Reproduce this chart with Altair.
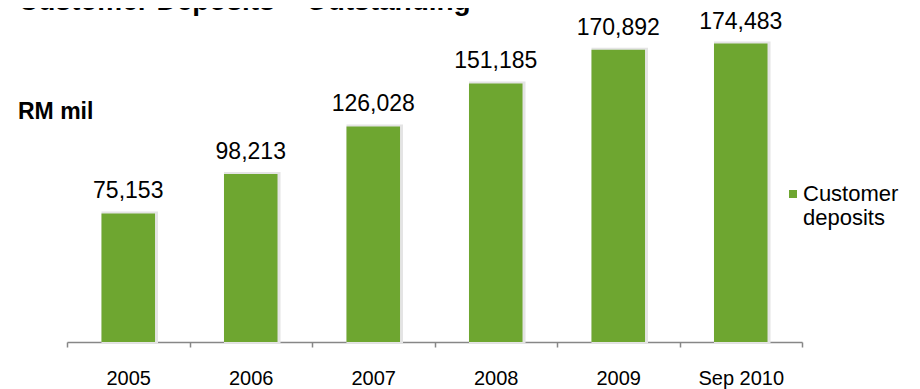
import altair as alt
import pandas as pd

categories = ["2005", "2006", "2007", "2008", "2009", "Sep 2010"]
deposits = [75153, 98213, 126028, 151185, 170892, 174483]
series_name = "Customer deposits"
title_text = "Customer Deposits – Outstanding"
unit_text = "RM mil"

df = pd.DataFrame({
    "period": categories,
    "value": deposits,
    "series": [series_name] * len(categories),
})
notes = pd.DataFrame({"t": [title_text, unit_text]})

FONT = "Liberation Sans"
GREEN = "#6ea630"
AXIS_GREY = "#878787"

x = alt.X(
    "period:N", sort=categories, title=None,
    scale=alt.Scale(paddingInner=0, paddingOuter=0),
    axis=alt.Axis(labelAngle=0, labelFont=FONT, labelFontSize=20, labelColor="black",
                  labelBaseline="alphabetic", labelPadding=37, tickSize=5,
                  tickColor=AXIS_GREY, tickWidth=1.5, domainColor=AXIS_GREY,
                  domainWidth=1.5, tickBand="extent", grid=False),
)
y = alt.Y("value:Q", scale=alt.Scale(domain=[0, 195300]), axis=None)

shadow = alt.Chart(df).mark_bar(
    width=alt.RelativeBandSize(0.437), color="#e4e4e4",
    stroke="#e4e4e4", strokeWidth=3, xOffset=1.5, yOffset=-0.5,
).encode(x=x, y=y)

bars = alt.Chart(df).mark_bar(width=alt.RelativeBandSize(0.437)).encode(
    x=x, y=y,
    color=alt.Color(
        "series:N",
        scale=alt.Scale(range=[GREEN]),
        legend=alt.Legend(
            orient="none", legendX=714, legendY=182, title=None, padding=0,
            symbolType="M-0.75,-2.75H1.25V-0.75H-0.75Z", symbolSize=64,
            symbolFillColor=GREEN, symbolStrokeWidth=0,
            labelFont=FONT, labelFontSize=22, labelColor="black",
            labelBaseline="alphabetic", labelExpr="split(datum.label, ' ')",
            labelOffset=0, labelLimit=300,
        ),
    ),
)

values = alt.Chart(df).mark_text(
    dy=-15, fontSize=23, font=FONT, color="black", baseline="alphabetic"
).encode(x=x, y=y, text=alt.Text("value:Q", format=","))

title = alt.Chart(notes.iloc[[0]]).mark_text(
    font=FONT, fontSize=28, fontWeight="bold", color="black",
    align="left", baseline="alphabetic"
).encode(text="t:N", x=alt.value(-49), y=alt.value(2))

unit = alt.Chart(notes.iloc[[1]]).mark_text(
    font=FONT, fontSize=23, fontWeight="bold", color="black",
    align="left", baseline="alphabetic"
).encode(text="t:N", x=alt.value(-49), y=alt.value(111))

chart = alt.layer(shadow, bars, values, title, unit).properties(
    width=735, height=334,
    padding={"left": 59, "top": 0, "right": 110, "bottom": 47},
    autosize=alt.AutoSizeParams(type="none"),
    background="white",
).configure_view(stroke=None)

chart.save("out.html", embed_options={"renderer": "svg", "actions": False})
